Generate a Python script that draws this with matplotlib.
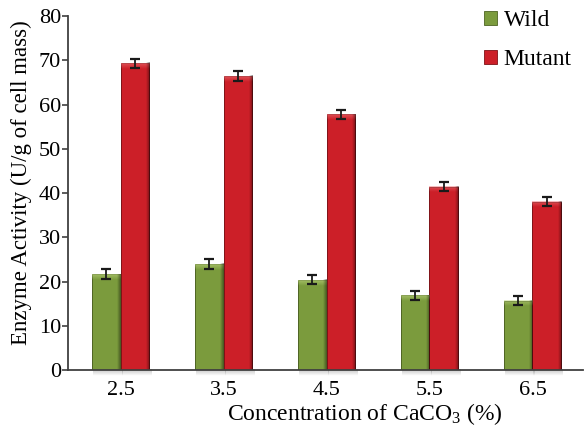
import matplotlib.pyplot as plt
import numpy as np
from matplotlib.patches import Patch

# enzyme activity (U/g of cell mass) at each CaCO3 concentration
concentrations = ['2.5', '3.5', '4.5', '5.5', '6.5']
wild = [21.7, 24.0, 20.4, 16.9, 15.7]
wild_err = [1.1, 1.1, 1.0, 1.0, 1.0]
mutant = [69.4, 66.5, 57.8, 41.5, 38.1]
mutant_err = [1.0, 1.1, 1.1, 1.0, 1.0]

green = '#7b9b3d'
red = '#cc1f28'

plt.rcParams['font.family'] = ['Liberation Serif', 'DejaVu Serif']
plt.rcParams['mathtext.fontset'] = 'custom'
plt.rcParams['mathtext.rm'] = 'Liberation Serif'
plt.rcParams['mathtext.it'] = 'Liberation Serif:italic'

fig = plt.figure(figsize=(5.87, 4.38), dpi=100)
ax = fig.add_axes([0.116, 0.155, 0.877, 0.808])

x = np.arange(len(concentrations))
w = 0.28


def shade(bars, light):
    # bevel look: light band on top, dark strip on the right, soft shadow under the axis
    top = np.linspace(0.55, 0.0, 20).reshape(-1, 1)
    side = np.linspace(0.0, 0.45, 20).reshape(1, -1)
    drop = np.linspace(0.35, 0.0, 10).reshape(-1, 1)
    for b in bars:
        x0 = b.get_x()
        x1 = x0 + b.get_width()
        h = b.get_height()
        rgba = np.zeros((20, 1, 4))
        rgba[..., :3] = plt.matplotlib.colors.to_rgb(light)
        rgba[..., 3] = top
        ax.imshow(rgba, extent=(x0, x1, h - 1.3, h), aspect='auto',
                  interpolation='bilinear', zorder=2.1)
        dark = np.zeros((1, 20, 4))
        dark[..., 3] = side
        ax.imshow(dark, extent=(x1 - 0.035, x1, 0, h), aspect='auto',
                  interpolation='bilinear', zorder=2.2)
        sh = np.zeros((10, 1, 4))
        sh[..., :3] = 0.35
        sh[..., 3] = drop
        im = ax.imshow(sh, extent=(x0 + 0.01, x1 + 0.02, -1.4, 0), aspect='auto',
                       interpolation='bilinear', zorder=1)
        im.set_clip_on(False)


bw = ax.bar(x - w, wild, w, align='edge', color=green, edgecolor='#4d6322',
            linewidth=0.7, zorder=2)
bm = ax.bar(x, mutant, w, align='edge', color=red, edgecolor='#7e1116',
            linewidth=0.7, zorder=2)
shade(bw, '#c4dc86')
shade(bm, '#f07a7e')

ax.errorbar(x - w / 2, wild, yerr=wild_err, fmt='none', ecolor='#1a1a1a',
            elinewidth=1.3, capsize=3.5, capthick=1.6, zorder=3)
ax.errorbar(x + w / 2, mutant, yerr=mutant_err, fmt='none', ecolor='#1a1a1a',
            elinewidth=1.3, capsize=3.5, capthick=1.6, zorder=3)

ax.set_xlim(-0.51, 4.49)
ax.set_ylim(0, 80)
ax.set_yticks(range(0, 81, 10))
ax.set_xticks(x)
ax.set_xticklabels(concentrations)
ax.tick_params(axis='y', labelsize=16, length=4, width=1.2, color='#404040', pad=1)
ax.tick_params(axis='x', labelsize=16, length=0, pad=8)

for s in ['top', 'right']:
    ax.spines[s].set_visible(False)
for s in ['left', 'bottom']:
    ax.spines[s].set_color('#404040')
    ax.spines[s].set_linewidth(1.3)
    ax.spines[s].set_zorder(4)

ax.set_ylabel('Enzyme Activity (U/g of cell mass)', fontsize=16.5)
ax.yaxis.set_label_coords(-0.07, 0.53)
fig.text(0.622, 0.04, 'Concentration of CaCO$_3$ (%)', fontsize=17,
         ha='center', va='baseline')

handles = [Patch(facecolor=green, edgecolor='#4d6322', linewidth=0.6, label='Wild'),
           Patch(facecolor=red, edgecolor='#7e1116', linewidth=0.6, label='Mutant')]
fig.legend(handles=handles, loc='upper right', bbox_to_anchor=(1.01, 1.025),
           frameon=False, fontsize=17, handlelength=0.55, handleheight=0.55,
           handletextpad=0.3, labelspacing=0.75)

fig.savefig('out.png', dpi=100)
